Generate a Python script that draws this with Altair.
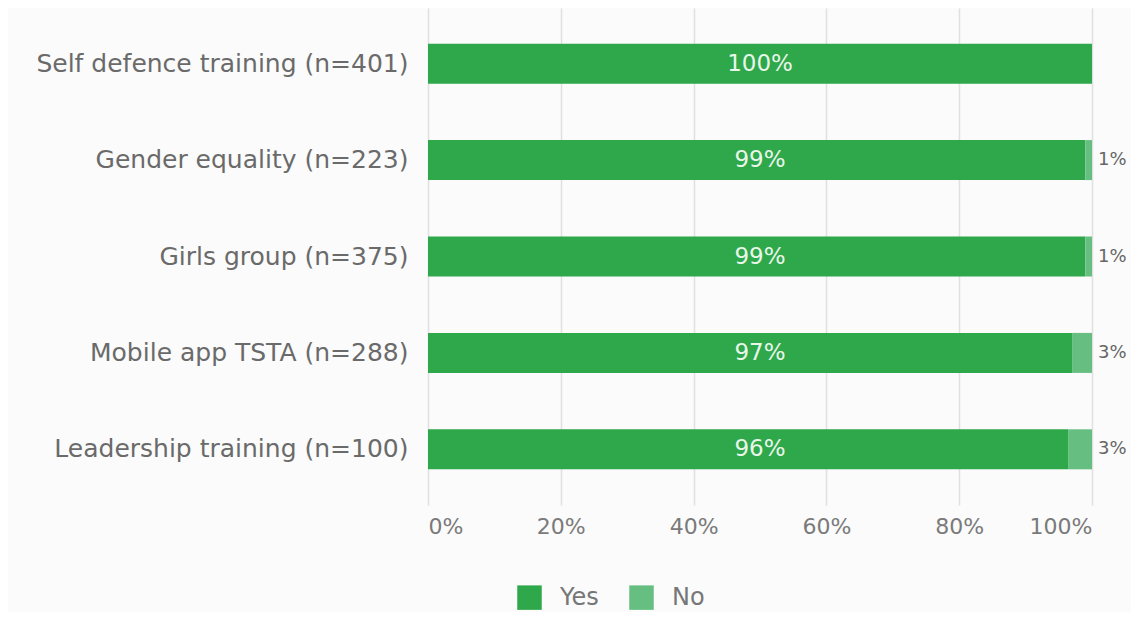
import altair as alt
import pandas as pd

categories = [
    "Self defence training (n=401)",
    "Gender equality (n=223)",
    "Girls group (n=375)",
    "Mobile app TSTA (n=288)",
    "Leadership training (n=100)",
]
yes_values = [100, 99, 99, 97, 96.4]
no_values = [0, 1, 1, 3, 3.6]
yes_labels = ["100%", "99%", "99%", "97%", "96%"]
no_labels = ["", "1%", "1%", "3%", "3%"]
responses = ["Yes", "No"]
colors = ["#2ea84a", "#66bf80"]
x_ticks = [0, 20, 40, 60, 80, 100]

FONT = "DejaVu Sans"

long_rows = []
for c, y, n in zip(categories, yes_values, no_values):
    long_rows.append({"category": c, "response": "Yes", "value": y, "ord": 0})
    long_rows.append({"category": c, "response": "No", "value": n, "ord": 1})
long_df = pd.DataFrame(long_rows)

wide_df = pd.DataFrame({
    "category": categories,
    "yes": yes_values,
    "no": no_values,
    "yes_label": yes_labels,
    "no_label": no_labels,
})

x_scale = alt.Scale(domain=[0, 100], nice=False)
y_enc = alt.Y(
    "category:N",
    sort=categories,
    scale=alt.Scale(paddingInner=0.585, paddingOuter=0.37),
    axis=alt.Axis(
        title=None, ticks=False, domain=False, labelPadding=20,
        labelFontSize=25, labelColor="#6a6a6a", labelFont=FONT, labelLimit=500,
    ),
)

bars = alt.Chart(long_df).mark_bar().encode(
    x=alt.X(
        "value:Q", stack="zero", scale=x_scale,
        axis=alt.Axis(
            title=None, values=x_ticks, labelExpr="datum.value + '%'",
            ticks=False, domain=False, grid=True, gridColor="#e0e0e0", gridWidth=1.5,
            labelFontSize=22, labelColor="#7a7a7a", labelFont=FONT, labelPadding=11,
        ),
    ),
    y=y_enc,
    color=alt.Color(
        "response:N",
        scale=alt.Scale(domain=responses, range=colors),
        legend=alt.Legend(
            title=None, orient="none", direction="horizontal",
            legendX=89, legendY=577, symbolType="square", symbolSize=600,
            symbolStrokeWidth=0, labelFontSize=24, labelColor="#777777",
            labelFont=FONT, labelOffset=18, columnPadding=30,
        ),
    ),
    order=alt.Order("ord:Q"),
)

yes_text = alt.Chart(wide_df).transform_calculate(
    mid="(datum.yes + datum.no) / 2"
).mark_text(
    color="#e9f6ea", fontSize=23, font=FONT, baseline="middle"
).encode(
    x=alt.X("mid:Q", scale=x_scale),
    y=alt.Y("category:N", sort=categories),
    text="yes_label:N",
)

no_text = alt.Chart(wide_df).transform_calculate(
    end="datum.yes + datum.no"
).mark_text(
    color="#666666", fontSize=18, font=FONT, align="left", dx=6, baseline="middle"
).encode(
    x=alt.X("end:Q", scale=x_scale),
    y=alt.Y("category:N", sort=categories),
    text="no_label:N",
)

chart = alt.layer(bars, yes_text, no_text).properties(
    width=664,
    height=497,
    autosize=alt.AutoSizeParams(type="none"),
    padding={"left": 420, "top": 0, "right": 39, "bottom": 107},
    background="#fafbfa",
).configure_view(stroke=None)

chart.save("out.html", embed_options={"renderer": "svg", "actions": False})
